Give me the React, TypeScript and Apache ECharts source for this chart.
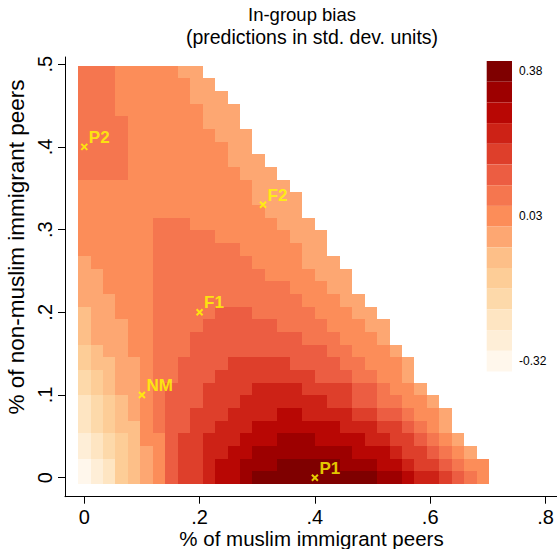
import React, { useEffect, useRef } from 'react';
import * as echarts from 'echarts';

// grid spacing of the prediction cells (data units)
const X_STEP = 0.02161;
const Y_STEP = 0.01533;

// colour-scale bins: centre value of each of the 15 classes (low -> high)
const LEVEL_VALUES = [-0.32, -0.27, -0.22, -0.17, -0.12, -0.07, -0.02, 0.03, 0.08, 0.13, 0.18, 0.23, 0.28, 0.33, 0.38];
const PALETTE = ['#fff7ec', '#feeed7', '#fee5c2', '#fdd9aa', '#fdcd97', '#fdbf88', '#fda772', '#fc8d59', '#f5764f', '#ec5d42', '#de3f2b', '#cd2216', '#b80704', '#9d0000', '#7f0000'];
const LEGEND_LABELS = ['-0.32', '', '', '', '', '', '', '0.03', '', '', '', '', '', '', '0.38'];

// class (1..15) of each cell; rows from the top (y high) to the bottom (y = 0), cells from x = 0 rightwards
const ROWS: number[][] = [
  [9, 9, 9, 8, 8, 8, 8, 8, 7, 7],
  [9, 9, 9, 8, 8, 8, 8, 8, 8, 7, 7],
  [9, 9, 9, 8, 8, 8, 8, 8, 8, 7, 7, 7],
  [9, 9, 9, 8, 8, 8, 8, 8, 8, 8, 7, 7, 7],
  [9, 9, 9, 9, 8, 8, 8, 8, 8, 8, 7, 7, 7],
  [9, 9, 9, 9, 8, 8, 8, 8, 8, 8, 8, 7, 7, 7],
  [9, 9, 9, 9, 8, 8, 8, 8, 8, 8, 8, 8, 7, 7],
  [9, 9, 9, 9, 8, 8, 8, 8, 8, 8, 8, 8, 7, 7, 7],
  [9, 9, 9, 9, 8, 8, 8, 8, 8, 8, 8, 8, 8, 7, 7, 7],
  [8, 8, 8, 8, 8, 8, 8, 8, 8, 8, 8, 8, 8, 8, 7, 7, 7],
  [8, 8, 8, 8, 8, 8, 8, 8, 8, 8, 8, 8, 8, 8, 7, 7, 7, 7],
  [8, 8, 8, 8, 8, 8, 8, 8, 8, 8, 8, 8, 8, 8, 8, 7, 7, 7],
  [8, 8, 8, 8, 8, 8, 9, 9, 9, 8, 8, 8, 8, 8, 8, 8, 7, 7, 7],
  [8, 8, 8, 8, 8, 8, 9, 9, 9, 9, 9, 8, 8, 8, 8, 8, 8, 7, 7, 7],
  [8, 8, 8, 8, 8, 8, 9, 9, 9, 9, 9, 9, 9, 8, 8, 8, 8, 8, 7, 7],
  [7, 8, 8, 8, 8, 8, 9, 9, 9, 9, 9, 9, 9, 9, 8, 8, 8, 8, 7, 7, 7],
  [7, 7, 8, 8, 8, 8, 9, 9, 9, 9, 9, 9, 9, 9, 9, 8, 8, 8, 8, 7, 7, 7],
  [7, 7, 8, 8, 8, 8, 9, 9, 9, 9, 9, 9, 9, 9, 9, 9, 9, 8, 8, 8, 7, 7],
  [7, 7, 7, 8, 8, 8, 9, 9, 9, 9, 9, 9, 9, 9, 9, 9, 9, 9, 8, 8, 8, 7, 7],
  [6, 7, 7, 8, 8, 8, 9, 9, 9, 9, 9, 10, 10, 10, 9, 9, 9, 9, 9, 8, 8, 8, 7, 7],
  [6, 7, 7, 7, 8, 8, 9, 9, 9, 9, 10, 10, 10, 10, 10, 10, 9, 9, 9, 9, 8, 8, 8, 7, 7],
  [6, 7, 7, 7, 8, 8, 9, 9, 9, 10, 10, 10, 10, 10, 10, 10, 10, 10, 9, 9, 9, 8, 8, 8, 7],
  [5, 6, 7, 7, 8, 8, 9, 9, 9, 10, 10, 10, 10, 10, 10, 10, 10, 10, 10, 10, 9, 9, 8, 8, 8, 7],
  [5, 6, 6, 7, 7, 8, 9, 9, 10, 10, 10, 10, 11, 11, 11, 11, 11, 10, 10, 10, 10, 9, 9, 8, 8, 8, 7],
  [4, 5, 6, 7, 7, 8, 9, 9, 10, 10, 10, 11, 11, 11, 11, 11, 11, 11, 11, 10, 10, 10, 9, 9, 8, 8, 7],
  [4, 5, 6, 7, 7, 8, 9, 10, 10, 10, 11, 11, 11, 11, 12, 12, 12, 12, 11, 11, 11, 11, 10, 10, 9, 8, 8, 7],
  [3, 4, 5, 6, 7, 8, 9, 10, 10, 10, 11, 11, 11, 12, 12, 12, 12, 12, 12, 12, 11, 11, 10, 10, 9, 9, 8, 8, 7],
  [3, 4, 5, 6, 7, 8, 9, 10, 10, 11, 11, 11, 12, 12, 12, 12, 13, 13, 12, 12, 12, 12, 11, 11, 10, 10, 9, 8, 8, 7],
  [3, 4, 5, 6, 6, 8, 9, 10, 10, 11, 11, 12, 12, 12, 13, 13, 13, 13, 13, 13, 13, 12, 12, 12, 11, 11, 10, 9, 8, 7],
  [2, 3, 4, 5, 6, 8, 8, 10, 11, 11, 12, 12, 12, 13, 13, 13, 14, 14, 14, 13, 13, 13, 13, 12, 12, 11, 11, 10, 9, 8, 7],
  [2, 3, 4, 5, 6, 7, 8, 10, 11, 11, 12, 12, 13, 13, 14, 14, 14, 14, 14, 14, 14, 14, 13, 13, 13, 12, 11, 11, 10, 9, 8, 7],
  [1, 2, 3, 5, 6, 7, 8, 10, 11, 11, 12, 13, 13, 14, 14, 14, 15, 15, 15, 15, 15, 14, 14, 14, 13, 13, 12, 11, 11, 10, 9, 8, 8],
  [1, 2, 3, 5, 6, 7, 8, 10, 11, 11, 12, 13, 13, 14, 15, 15, 15, 15, 15, 15, 15, 15, 15, 15, 14, 14, 13, 12, 12, 11, 10, 9, 8],
];

// labelled reference points
const POINT_NAMES = ['P1', 'P2', 'NM', 'F1', 'F2'];
const POINT_X = [0.4, 0, 0.1, 0.2, 0.31];
const POINT_Y = [0, 0.4, 0.1, 0.2, 0.33];

const X_TICKS = [0, 0.2, 0.4, 0.6, 0.8];
const Y_TICKS = [0, 0.1, 0.2, 0.3, 0.4, 0.5];

const TITLE = 'In-group bias';
const SUBTITLE = '(predictions in std. dev. units)';
const X_TITLE = '% of muslim immigrant peers';
const Y_TITLE = '% of non-muslim immigrant peers';

const FONT = '"Liberation Sans", Arial, Helvetica, sans-serif';

const fmtTick = (v: number) => (Math.abs(v) < 1e-9 ? '0' : v.toFixed(1).replace(/^0\./, '.'));

export default function App() {
  const ref = useRef<HTMLDivElement>(null);

  useEffect(() => {
    if (!ref.current) return;
    const chart = echarts.init(ref.current, undefined, { renderer: 'svg' });

    const cells: number[][] = [];
    const nRows = ROWS.length;
    ROWS.forEach((row, r) => {
      const y = (nRows - 1 - r) * Y_STEP;
      row.forEach((lvl, i) => {
        cells.push([i * X_STEP, y, LEVEL_VALUES[lvl - 1]]);
      });
    });

    const points = POINT_NAMES.map((n, i) => [POINT_X[i], POINT_Y[i], n]);

    const pieces = LEVEL_VALUES.map((v, i) => ({
      min: v - 0.025,
      max: v + 0.025,
      color: PALETTE[i],
      label: LEGEND_LABELS[i] === '' ? ' ' : LEGEND_LABELS[i],
    }));

    chart.setOption({
      animation: false,
      backgroundColor: '#ffffff',
      textStyle: { fontFamily: FONT },
      grid: { left: 65, top: 57, width: 492, height: 439.7, containLabel: false, outerBoundsMode: 'none' },
      xAxis: {
        type: 'value',
        min: -0.0335,
        max: 0.82,
        splitLine: { show: false },
        axisLine: { show: true, onZero: false, lineStyle: { color: '#000', width: 1 } },
        axisTick: { show: true, customValues: X_TICKS, length: 7, lineStyle: { color: '#000', width: 1 } },
        axisLabel: {
          customValues: X_TICKS,
          formatter: (v: number) => fmtTick(v),
          fontSize: 20,
          color: '#000',
          margin: 10,
          fontFamily: FONT,
        },
      },
      yAxis: {
        type: 'value',
        min: -0.023,
        max: 0.5087,
        splitLine: { show: false },
        axisLine: { show: true, onZero: false, lineStyle: { color: '#000', width: 1 } },
        axisTick: { show: true, customValues: Y_TICKS, length: 7, lineStyle: { color: '#000', width: 1 } },
        axisLabel: {
          customValues: Y_TICKS,
          formatter: (v: number) => fmtTick(v),
          fontSize: 20,
          color: '#000',
          margin: 10,
          rotate: 90,
          fontFamily: FONT,
        },
      },
      visualMap: {
        type: 'piecewise',
        seriesIndex: 0,
        dimension: 2,
        pieces,
        orient: 'vertical',
        align: 'left',
        left: 486.7,
        top: 61,
        itemWidth: 25.3,
        itemHeight: 20.7,
        itemGap: 0,
        itemSymbol: 'rect',
        textGap: 7,
        padding: 0,
        hoverLink: false,
        selectedMode: false,
        textStyle: { fontSize: 12, color: '#000', fontFamily: FONT },
      },
      graphic: [
        {
          type: 'text',
          x: 302,
          y: 14,
          style: { text: TITLE, textAlign: 'center', textVerticalAlign: 'middle', fontSize: 18.5, fontFamily: FONT, fill: '#000' },
        },
        {
          type: 'text',
          x: 312,
          y: 37,
          style: { text: SUBTITLE, textAlign: 'center', textVerticalAlign: 'middle', fontSize: 19.5, fontFamily: FONT, fill: '#000' },
        },
        {
          type: 'text',
          x: 311.5,
          y: 538,
          style: { text: X_TITLE, textAlign: 'center', textVerticalAlign: 'middle', fontSize: 20.5, fontFamily: FONT, fill: '#000' },
        },
        {
          type: 'text',
          x: 16,
          y: 247,
          rotation: Math.PI / 2,
          style: { text: Y_TITLE, textAlign: 'center', textVerticalAlign: 'middle', fontSize: 22.5, fontFamily: FONT, fill: '#000' },
        },
      ],
      series: [
        {
          type: 'custom',
          coordinateSystem: 'cartesian2d',
          data: cells,
          encode: { x: 0, y: 1 },
          silent: true,
          renderItem: (params: any, api: any) => {
            const x = api.value(0);
            const y = api.value(1);
            const a = api.coord([x - X_STEP / 2, y + Y_STEP / 2]);
            const b = api.coord([x + X_STEP / 2, y - Y_STEP / 2]);
            const x0 = Math.round(a[0]);
            const y0 = Math.round(a[1]);
            const x1 = Math.round(b[0]);
            const y1 = Math.round(b[1]);
            return {
              type: 'rect',
              shape: { x: x0, y: y0, width: x1 - x0, height: y1 - y0 },
              style: { fill: api.visual('color'), stroke: null },
            };
          },
        },
        {
          type: 'scatter',
          data: points,
          silent: true,
          symbol: 'path://M0,0L10,10M10,0L0,10',
          symbolSize: 6,
          itemStyle: { color: 'rgba(0,0,0,0)', borderColor: '#ffff00', borderWidth: 2 },
          label: {
            show: true,
            formatter: (p: any) => p.data[2],
            position: [8.5, -5.5],
            align: 'left',
            verticalAlign: 'middle',
            color: '#ffff00',
            fontWeight: 'bold',
            fontSize: 17,
            fontFamily: FONT,
          },
          z: 5,
        },
      ],
    });

    return () => chart.dispose();
  }, []);

  return <div ref={ref} style={{ position: 'absolute', left: 0, top: 0, width: 557, height: 549 }} />;
}
